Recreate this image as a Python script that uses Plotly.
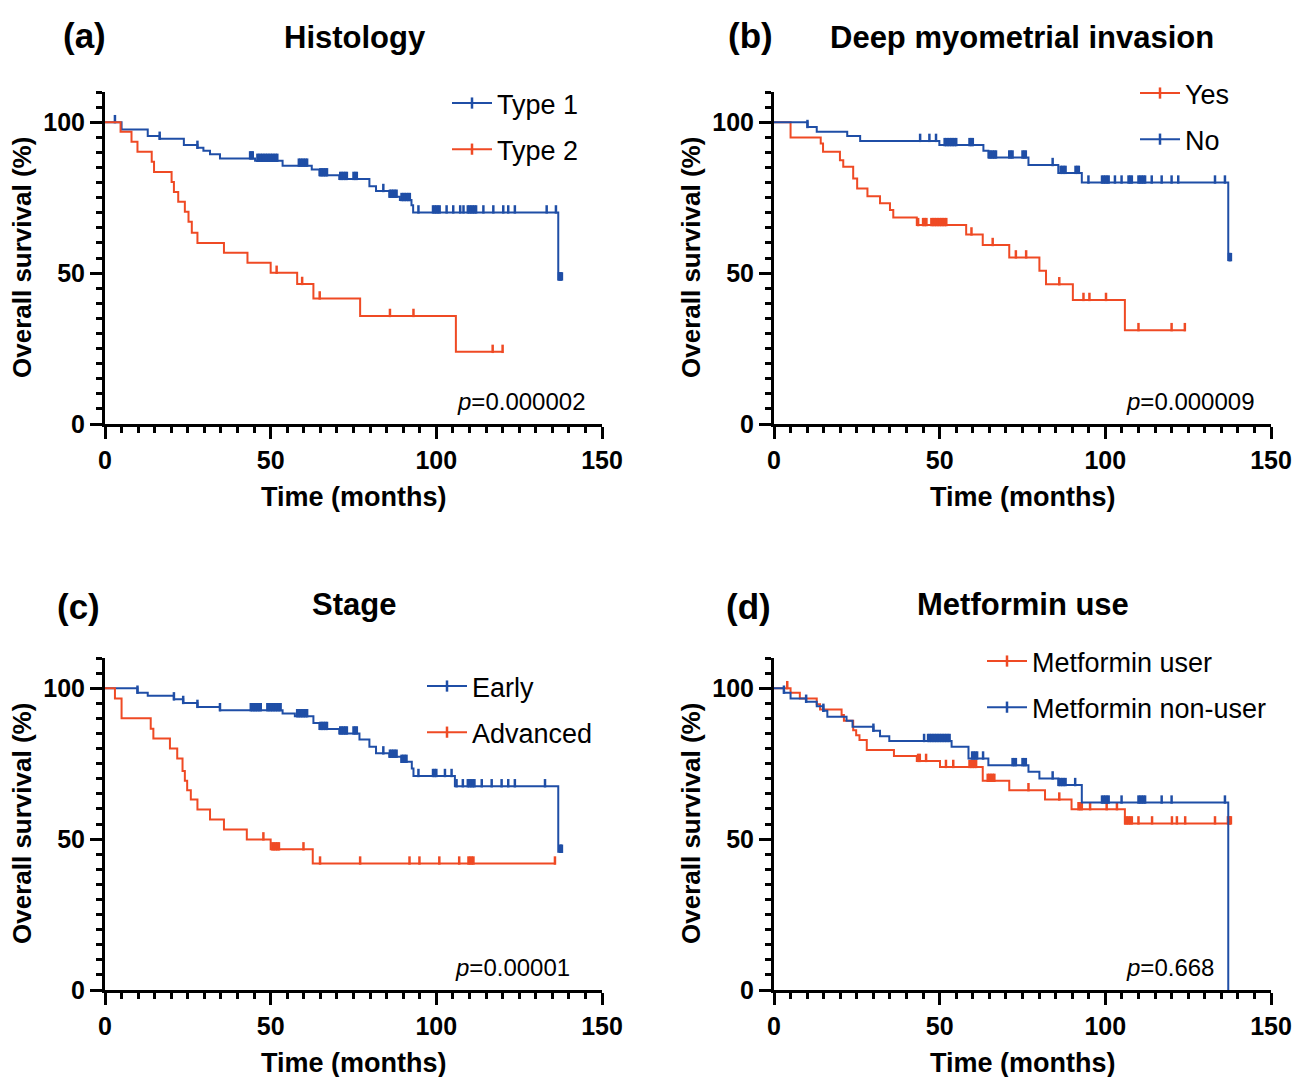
import plotly.graph_objects as go

BLUE = "#1F4EA6"
RED = "#EF4A24"
FONT = "Liberation Sans, Arial, sans-serif"

# ---------------- (a) Histology ----------------
a1_name = "Type 1"
a1_event_t = [5.0, 12.9, 16.5, 23.8, 27.9, 29.7, 31.7, 34.7, 45.3, 53.6, 62.4, 64.7, 70.7, 79.8, 81.8, 85.8, 89.0, 92.5, 93.0, 136.8]
a1_event_s = [97.6, 95.4, 94.5, 92.4, 91.5, 90.5, 89.4, 88.0, 87.2, 85.6, 84.3, 82.4, 81.2, 78.8, 77.2, 75.3, 74.2, 72.5, 70.1, 47.9]
a1_cens = [3.0, 16.5, 27.9, 43.8, 44.2, 44.6, 46.0, 46.5, 47.0, 47.5, 48.0, 48.5, 49.0, 49.5, 50.0, 50.5, 51.0, 51.5, 52.0,
           58.5, 59.0, 59.5, 60.0, 60.5, 61.0, 65.0, 65.5, 66.0, 66.5, 67.0, 71.0, 71.5, 72.0, 72.5, 73.0, 75.0, 75.5, 76.0,
           84.0, 86.0, 86.5, 87.0, 87.5, 88.0, 89.5, 90.0, 90.5, 91.0, 91.5, 92.0, 94.6, 99.0, 99.5, 100.0, 100.5, 101.0,
           103.1, 105.1, 107.2, 108.2, 109.5, 110.0, 110.5, 111.0, 111.5, 112.0, 114.2, 117.2, 120.2, 121.7, 123.7,
           133.3, 136.1, 137.0, 137.3, 137.6, 137.9]
a1_end = 137.9

a2_name = "Type 2"
a2_event_t = [4.7, 8.0, 9.8, 14.1, 14.8, 20.1, 20.8, 22.1, 24.1, 25.2, 26.2, 27.9, 35.9, 43.0, 50.0, 58.0, 62.9, 77.0, 105.9]
a2_event_s = [96.8, 93.5, 90.2, 86.9, 83.5, 80.2, 76.9, 73.6, 70.3, 67.0, 63.4, 60.0, 56.7, 53.4, 50.1, 46.4, 41.6, 35.8, 23.9]
a2_cens = [51.8, 59.5, 64.8, 86.0, 93.1, 117.0, 120.0]
a2_end = 120.2
a_p = "<i>p</i>=0.000002"

# ---------------- (b) Deep myometrial invasion ----------------
b1_name = "Yes"
b1_event_t = [5.0, 14.1, 14.8, 19.9, 20.9, 23.9, 25.1, 28.2, 32.0, 35.0, 36.0, 43.1, 58.0, 63.0, 71.0, 80.1, 82.1, 90.2, 105.9]
b1_event_s = [94.9, 92.9, 90.2, 87.4, 85.2, 81.3, 78.0, 75.5, 73.1, 70.9, 68.4, 65.9, 62.8, 59.3, 55.2, 50.8, 46.3, 41.1, 31.1]
b1_cens = [43.5, 45.0, 45.5, 46.0, 47.5, 48.0, 48.5, 49.0, 49.5, 50.0, 50.5, 51.0, 51.5, 52.0, 59.6, 66.0, 73.0, 76.1,
           86.1, 93.4, 95.2, 100.2, 110.0, 120.0, 124.0]
b1_end = 124.2

b2_name = "No"
b2_event_t = [10.1, 12.9, 22.1, 26.0, 49.9, 63.2, 64.7, 76.8, 85.8, 92.9, 137.1]
b2_event_s = [98.4, 96.8, 95.4, 93.8, 92.4, 90.5, 88.3, 85.8, 83.2, 80.0, 54.3]
b2_cens = [10.1, 44.1, 46.9, 48.9, 51.5, 52.0, 52.5, 53.0, 53.5, 54.0, 54.5, 55.0, 59.0, 59.5, 60.0, 65.0, 65.5, 66.0,
           66.5, 67.0, 71.0, 71.5, 72.0, 75.0, 75.5, 76.0, 84.1, 86.5, 87.0, 87.5, 88.0, 91.0, 91.5, 92.0, 94.9, 99.0,
           99.5, 100.0, 100.5, 101.0, 102.9, 104.9, 107.0, 107.5, 108.0, 110.0, 110.5, 111.0, 111.5, 112.0, 114.0,
           117.0, 120.0, 122.0, 133.1, 136.1, 137.3, 137.6, 137.9]
b2_end = 137.9
b_p = "<i>p</i>=0.000009"

# ---------------- (c) Stage ----------------
c1_name = "Early"
c1_event_t = [9.8, 12.9, 20.8, 23.6, 27.9, 34.7, 53.6, 57.3, 62.9, 64.7, 70.7, 76.8, 79.8, 81.8, 85.8, 89.5, 92.6, 93.1, 105.6, 136.8]
c1_event_s = [98.5, 97.5, 96.3, 95.1, 93.8, 92.7, 91.6, 90.7, 88.5, 86.5, 85.0, 83.0, 80.6, 78.4, 77.3, 75.6, 73.4, 70.9, 67.5, 45.8]
c1_cens = [9.8, 20.8, 23.6, 27.9, 34.7, 44.0, 44.5, 45.0, 45.5, 46.0, 46.5, 47.0, 49.0, 49.5, 50.0, 50.5, 51.0, 51.5,
           52.0, 52.5, 53.0, 58.0, 58.5, 59.0, 59.5, 60.0, 60.5, 61.0, 65.0, 65.5, 66.0, 66.5, 67.0, 71.0, 71.5, 72.0,
           72.5, 73.0, 75.0, 75.5, 76.0, 84.0, 86.0, 86.5, 87.0, 87.5, 88.0, 89.5, 90.0, 90.5, 91.0, 94.6, 99.0, 99.5,
           100.0, 102.6, 104.6, 106.1, 108.0, 109.5, 110.0, 110.5, 111.0, 111.5, 113.7, 116.7, 119.7, 121.7, 123.7,
           132.8, 137.3, 137.6, 137.9]
c1_end = 137.9

c2_name = "Advanced"
c2_event_t = [3.0, 5.0, 13.8, 14.6, 19.6, 21.8, 23.4, 24.1, 24.8, 25.9, 27.9, 31.7, 35.9, 42.8, 50.0, 62.7]
c2_event_s = [96.6, 90.0, 86.6, 83.3, 80.0, 76.7, 72.6, 69.3, 66.2, 63.1, 59.8, 56.5, 53.2, 49.9, 46.6, 41.9]
c2_cens = [47.8, 50.5, 51.0, 51.5, 52.0, 52.5, 59.9, 64.9, 77.0, 91.9, 94.9, 100.9, 106.9, 109.7, 110.2, 110.7, 111.2, 135.8]
c2_end = 136.0
c_p = "<i>p</i>=0.00001"

# ---------------- (d) Metformin use ----------------
d1_name = "Metformin user"
d1_event_t = [5.0, 7.8, 12.9, 13.9, 20.4, 21.1, 23.9, 24.8, 25.8, 28.0, 36.2, 43.1, 50.1, 63.0, 71.0, 81.8, 89.8, 105.9]
d1_event_s = [98.5, 96.6, 94.7, 92.9, 91.1, 89.2, 86.1, 84.4, 82.8, 79.5, 77.5, 75.9, 73.9, 69.3, 66.2, 63.1, 59.9, 55.2]
d1_cens = [4.0, 43.5, 44.0, 45.9, 51.9, 54.1, 59.0, 59.5, 60.0, 60.5, 61.0, 64.5, 65.0, 65.5, 66.0, 66.5, 76.8, 86.1,
           91.9, 92.4, 92.9, 95.4, 100.4, 103.5, 106.0, 106.5, 107.0, 107.5, 108.0, 110.0, 114.1, 120.1, 121.6, 124.1,
           133.1, 137.0, 137.3, 137.6, 137.9]
d1_end = 137.9

d2_name = "Metformin non-user"
d2_event_t = [3.0, 5.0, 9.7, 12.9, 14.9, 16.1, 21.9, 23.7, 30.0, 32.0, 34.8, 53.6, 58.7, 64.7, 76.8, 80.1, 85.8, 92.9, 137.1]
d2_event_s = [98.5, 96.6, 95.5, 94.0, 92.5, 90.5, 89.2, 87.2, 85.9, 84.1, 82.5, 80.6, 76.7, 74.5, 72.3, 70.1, 67.9, 62.1, 0.0]
d2_cens = [3.0, 9.7, 14.9, 30.0, 45.3, 46.5, 47.0, 47.5, 48.0, 48.5, 49.0, 49.5, 50.0, 50.5, 51.0, 51.5, 52.0, 52.5,
           53.0, 59.8, 60.3, 60.8, 61.3, 63.1, 72.0, 72.5, 73.0, 75.0, 75.5, 76.0, 84.1, 86.0, 86.5, 87.0, 87.5, 88.0,
           90.9, 99.0, 99.5, 100.0, 100.5, 101.0, 104.9, 110.0, 110.5, 111.0, 111.5, 112.0, 117.0, 120.0, 136.1]
d2_end = 137.1
d_p = "<i>p</i>=0.668"

panel_letters = ["(a)", "(b)", "(c)", "(d)"]
panel_titles = ["Histology", "Deep myometrial invasion", "Stage", "Metformin use"]
x_ticks = [0, 50, 100, 150]
y_ticks = [0, 50, 100]
x_title = "Time (months)"
y_title = "Overall survival (%)"

W, H = 1293, 1077
# plot-area pixel boxes (left, right, top, bottom)
boxes = [(105, 602, 92, 424), (774, 1271, 92, 424), (105, 602, 658, 990), (774, 1271, 658, 990)]
title_pos = [(355, 38), (1022, 38), (354, 604), (1023, 604)]
letter_pos = [(84, 35), (750, 35), (78, 606), (748, 606)]
legend_pos = [(447, 79), (1135, 69), (422, 662), (982, 637)]
p_pos = [(145.5, 7.4), (145.5, 7.4), (141.0, 7.3), (133.3, 7.3)]

panels = [
    [(a1_name, a1_event_t, a1_event_s, a1_cens, a1_end, BLUE), (a2_name, a2_event_t, a2_event_s, a2_cens, a2_end, RED), a_p],
    [(b1_name, b1_event_t, b1_event_s, b1_cens, b1_end, RED), (b2_name, b2_event_t, b2_event_s, b2_cens, b2_end, BLUE), b_p],
    [(c1_name, c1_event_t, c1_event_s, c1_cens, c1_end, BLUE), (c2_name, c2_event_t, c2_event_s, c2_cens, c2_end, RED), c_p],
    [(d1_name, d1_event_t, d1_event_s, d1_cens, d1_end, RED), (d2_name, d2_event_t, d2_event_s, d2_cens, d2_end, BLUE), d_p],
]

TICK_UP = 1.0  # lift of the censor tick centre, in % units


def km_xy(ev_t, ev_s, end):
    return [0] + list(ev_t) + [end], [100] + list(ev_s) + [ev_s[-1]]


def cens_y(ev_t, ev_s, cens):
    out = []
    for c in cens:
        s = 100.0
        for t, v in zip(ev_t, ev_s):
            if t <= c:
                s = v
        out.append(s + TICK_UP)
    return out


fig = go.Figure()
annotations = []
layout_axes = {}

for i, (s1, s2, ptxt) in enumerate(panels):
    k = "" if i == 0 else str(i + 1)
    xa, ya = "x" + k, "y" + k
    leg = "legend" + k
    l, r, t, b = boxes[i]
    for (name, et, es, cs, end, col) in (s1, s2):
        x, y = km_xy(et, es, end)
        fig.add_trace(go.Scatter(x=x, y=y, mode="lines", line=dict(color=col, width=2, shape="hv"),
                                 xaxis=xa, yaxis=ya, showlegend=False, hoverinfo="skip"))
        fig.add_trace(go.Scatter(x=cs, y=cens_y(et, es, cs), mode="markers",
                                 marker=dict(symbol="line-ns", size=6, line=dict(color=col, width=2.5)),
                                 xaxis=xa, yaxis=ya, showlegend=False, hoverinfo="skip"))
    for j, (name, et, es, cs, end, col) in enumerate((s1, s2)):
        fig.add_trace(go.Scatter(x=[None], y=[None], mode="lines+markers", name=name,
                                 line=dict(color=col, width=2),
                                 marker=dict(symbol="line-ns", size=8, line=dict(color=col, width=2.5)),
                                 xaxis=xa, yaxis=ya, legend=leg, legendgroup=f"g{i}{j}"))
    lx, ly = legend_pos[i]
    layout_axes[leg] = dict(x=lx / W, y=1 - ly / H, xanchor="left", yanchor="top",
                            bgcolor="rgba(0,0,0,0)", font=dict(family=FONT, size=27, color="black"),
                            tracegroupgap=8, itemwidth=40)

    common = dict(showline=True, linecolor="black", linewidth=3, ticks="outside", ticklen=12,
                  tickwidth=3, tickcolor="black", showgrid=False, zeroline=False, automargin=False,
                  tickfont=dict(family=FONT, size=25, color="black", weight="bold"),
                  minor=dict(dtick=5, ticks="outside", ticklen=6, tickwidth=3, tickcolor="black", showgrid=False))
    layout_axes["xaxis" + k] = dict(domain=[l / W, r / W], anchor=ya, range=[0, 150], tickvals=x_ticks, **common)
    layout_axes["yaxis" + k] = dict(domain=[1 - b / H, 1 - t / H], anchor=xa, range=[0, 110], tickvals=y_ticks, **common)

    annotations.append(dict(text=x_title, xref=xa + " domain", yref=ya + " domain", x=0.5, y=0,
                            yshift=-73, xanchor="center", yanchor="middle", showarrow=False,
                            font=dict(family=FONT, size=27, color="black", weight="bold")))
    annotations.append(dict(text=y_title, xref=xa + " domain", yref=ya + " domain", x=0, y=0.5,
                            xshift=-83, textangle=-90, xanchor="center", yanchor="middle", showarrow=False,
                            font=dict(family=FONT, size=26, color="black", weight="bold")))
    tx, ty = title_pos[i]
    annotations.append(dict(text=panel_titles[i], xref="paper", yref="paper", x=tx / W, y=1 - ty / H,
                            xanchor="center", yanchor="middle", showarrow=False,
                            font=dict(family=FONT, size=31, color="black", weight="bold")))
    lx2, ly2 = letter_pos[i]
    annotations.append(dict(text=panel_letters[i], xref="paper", yref="paper", x=lx2 / W, y=1 - ly2 / H,
                            xanchor="center", yanchor="middle", showarrow=False,
                            font=dict(family=FONT, size=35, color="black", weight="bold")))
    px, py = p_pos[i]
    annotations.append(dict(text=ptxt, xref=xa, yref=ya, x=px, y=py, xanchor="right", yanchor="middle",
                            showarrow=False, font=dict(family=FONT, size=24, color="black")))

fig.update_layout(width=W, height=H, margin=dict(l=0, r=0, t=0, b=0, autoexpand=False),
                  paper_bgcolor="white", plot_bgcolor="white",
                  annotations=annotations, **layout_axes)

fig.write_html("out.html", config={"displayModeBar": False},
               post_script="document.body.style.margin='0';document.body.style.overflow='hidden';")
